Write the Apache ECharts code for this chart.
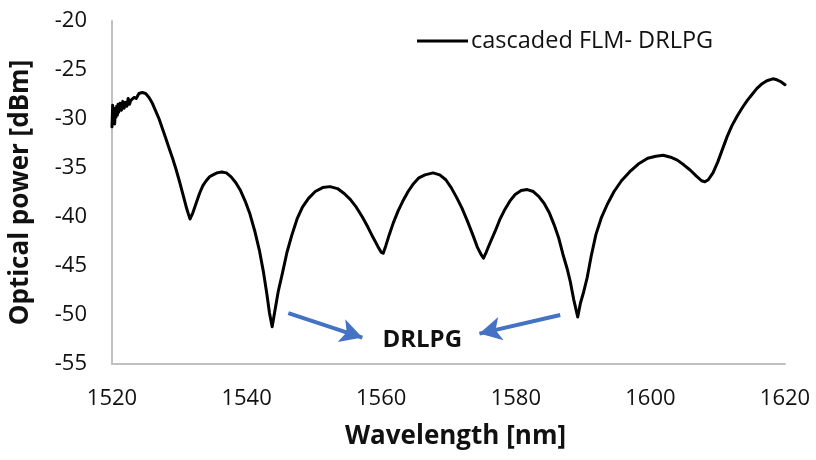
<!DOCTYPE html>
<html>
<head>
<meta charset="utf-8">
<script src="https://cdn.jsdelivr.net/npm/echarts@6/dist/echarts.min.js"></script>
<style>html,body{margin:0;padding:0;background:#fff;}#c{width:816px;height:460px;}</style>
</head>
<body>
<div id="c"></div>
<script>
var seriesName = 'cascaded FLM- DRLPG';
var wavelength = [
1520.0,1520.1,1520.2,1520.3,1520.4,1520.5,1520.6,1520.7,1520.8,1520.9,
1521.0,1521.2,1521.4,1521.6,1521.8,1522.0,1522.2,1522.4,1522.6,1522.8,
1523.0,1523.3,1523.6,1524.0,1524.5,
1525.0,1525.5,1526.0,1526.5,1527.0,1527.5,1528.0,1528.5,1529.0,1529.5,1530.0,1530.5,1531.0,1531.3,1531.6,
1532.0,1532.5,1533.0,1533.5,1534.0,1534.5,1535.0,1535.6,1536.3,1537.0,1537.7,1538.4,1539.1,1539.8,1540.5,1541.2,1541.9,1542.5,1543.0,1543.4,1543.8,
1544.2,1544.7,1545.3,1546.0,1546.7,1547.5,1548.3,1549.2,1550.2,1551.3,1552.4,1553.5,1554.5,1555.4,1556.3,1557.2,1558.0,1558.8,1559.5,1560.0,1560.3,
1560.7,1561.2,1561.8,1562.5,1563.2,1564.0,1564.8,1565.6,1566.5,1567.7,1568.7,1569.6,1570.4,1571.2,1572.0,1572.8,1573.6,1574.3,1574.9,1575.2,
1575.6,1576.2,1576.9,1577.6,1578.4,1579.2,1579.9,1580.8,1581.7,1582.6,1583.4,1584.2,1585.0,1585.7,1586.4,1587.0,1587.6,1588.1,1588.6,1589.2,
1589.6,1590.1,1590.6,1591.2,1591.9,1592.7,1593.6,1594.6,1595.7,1596.9,1598.2,1599.6,1600.8,1601.9,1603.0,1604.0,1605.0,1605.9,1606.8,1607.6,1608.1,
1608.6,1609.3,1610.0,1610.7,1611.4,1612.1,1612.9,1613.7,1614.4,1615.1,1615.8,1616.6,1617.3,1618.2,1618.8,1619.4,1620.0
];
var power = [
-30.8,-28.6,-30.2,-29.0,-30.5,-28.9,-29.8,-28.7,-29.6,-28.5,
-29.3,-28.4,-29.1,-28.2,-28.9,-28.3,-28.7,-27.9,-28.5,-28.1,
-28.2,-27.8,-27.9,-27.4,-27.3,
-27.4,-27.8,-28.4,-29.2,-30.0,-31.0,-32.0,-33.0,-34.0,-35.1,-36.3,-37.6,-38.9,-39.6,-40.2,
-39.6,-38.6,-37.6,-36.8,-36.3,-35.9,-35.7,-35.5,-35.4,-35.5,-35.9,-36.5,-37.3,-38.4,-39.7,-41.4,-43.4,-45.6,-47.8,-49.8,-51.2,
-49.6,-47.6,-45.8,-43.6,-41.9,-40.2,-39.0,-38.1,-37.4,-37.0,-36.9,-37.1,-37.6,-38.2,-39.0,-40.0,-41.0,-42.1,-43.0,-43.6,-43.7,
-42.9,-41.8,-40.6,-39.4,-38.4,-37.4,-36.6,-36.0,-35.7,-35.5,-35.7,-36.2,-37.0,-38.0,-39.1,-40.4,-41.8,-43.1,-43.9,-44.2,
-43.6,-42.6,-41.5,-40.3,-39.2,-38.3,-37.7,-37.3,-37.2,-37.4,-37.9,-38.6,-39.6,-40.8,-42.2,-43.8,-45.2,-46.6,-48.4,-50.2,
-48.8,-47.6,-46.2,-44.0,-41.8,-40.1,-38.7,-37.4,-36.3,-35.4,-34.6,-34.0,-33.8,-33.7,-33.9,-34.2,-34.7,-35.2,-35.8,-36.3,-36.4,
-36.2,-35.5,-34.4,-33.1,-31.8,-30.7,-29.7,-28.8,-28.1,-27.5,-26.9,-26.4,-26.1,-25.9,-26.0,-26.2,-26.5
];
var xTicks = {min: 1520, max: 1620, step: 20};
var yTicks = {min: -55, max: -20, step: 5};
var annotationText = 'DRLPG';
var annotationAt = [1566.1, -52.6];
var arrowLeft = [[1546.2, -49.8], [1557.2, -52.3]];
var arrowRight = [[1586.6, -50.0], [1574.6, -51.9]];

var pts = wavelength.map(function (w, i) { return [w, power[i]]; });
var FONT = '"Open Sans", sans-serif';
var chart = echarts.init(document.getElementById('c'), null, {renderer: 'canvas'});
chart.setOption({
  animation: false,
  backgroundColor: '#ffffff',
  grid: {left: 112, right: 31, top: 21, bottom: 96},
  legend: {
    show: true,
    left: 417, top: 29, padding: 0,
    icon: 'rect',
    itemWidth: 51, itemHeight: 3, itemGap: 8,
    textStyle: {fontFamily: FONT, fontSize: 23.5, color: '#111', padding: [0,0,0,-2]},
    data: [seriesName]
  },
  xAxis: {
    type: 'value', min: xTicks.min, max: xTicks.max, interval: xTicks.step,
    axisLine: {show: true, lineStyle: {color: '#c0c0c0', width: 2}},
    axisTick: {show: false}, splitLine: {show: false},
    axisLabel: {fontFamily: FONT, fontSize: 22, color: '#111', margin: 24,
      formatter: function (v) { return String(v); }},
    name: 'Wavelength [nm]', nameLocation: 'middle', nameGap: 60,
    nameTextStyle: {fontFamily: FONT, fontSize: 26, fontWeight: 'bold', color: '#111', padding: [0,0,0,14]}
  },
  yAxis: {
    type: 'value', min: yTicks.min, max: yTicks.max, interval: yTicks.step,
    axisLine: {show: true, lineStyle: {color: '#c0c0c0', width: 2}},
    axisTick: {show: false}, splitLine: {show: false},
    axisLabel: {fontFamily: FONT, fontSize: 22, color: '#111', margin: 25},
    name: 'Optical power [dBm]', nameLocation: 'middle', nameGap: 78,
    nameTextStyle: {fontFamily: FONT, fontSize: 26, fontWeight: 'bold', color: '#111'}
  },
  series: [{
    name: seriesName, type: 'line', data: pts,
    symbol: 'none', smooth: false,
    lineStyle: {color: '#000', width: 3, join: 'round', cap: 'round'},
    itemStyle: {color: '#000'},
    markLine: {
      silent: true, symbol: ['none', 'arrow'], symbolSize: [18, 22],
      label: {show: false},
      lineStyle: {color: '#4472c4', width: 4, type: 'solid'},
      data: [
        [{coord: arrowLeft[0]}, {coord: arrowLeft[1]}],
        [{coord: arrowRight[0]}, {coord: arrowRight[1]}]
      ]
    },
    markPoint: {
      silent: true,
      data: [{coord: annotationAt, symbol: 'circle', symbolSize: 1,
        itemStyle: {color: 'rgba(0,0,0,0)'},
        label: {show: true, position: 'inside', formatter: annotationText,
          fontFamily: FONT, fontSize: 24, fontWeight: 'bold', color: '#111'}}]
    }
  }]
});
</script>
</body>
</html>
